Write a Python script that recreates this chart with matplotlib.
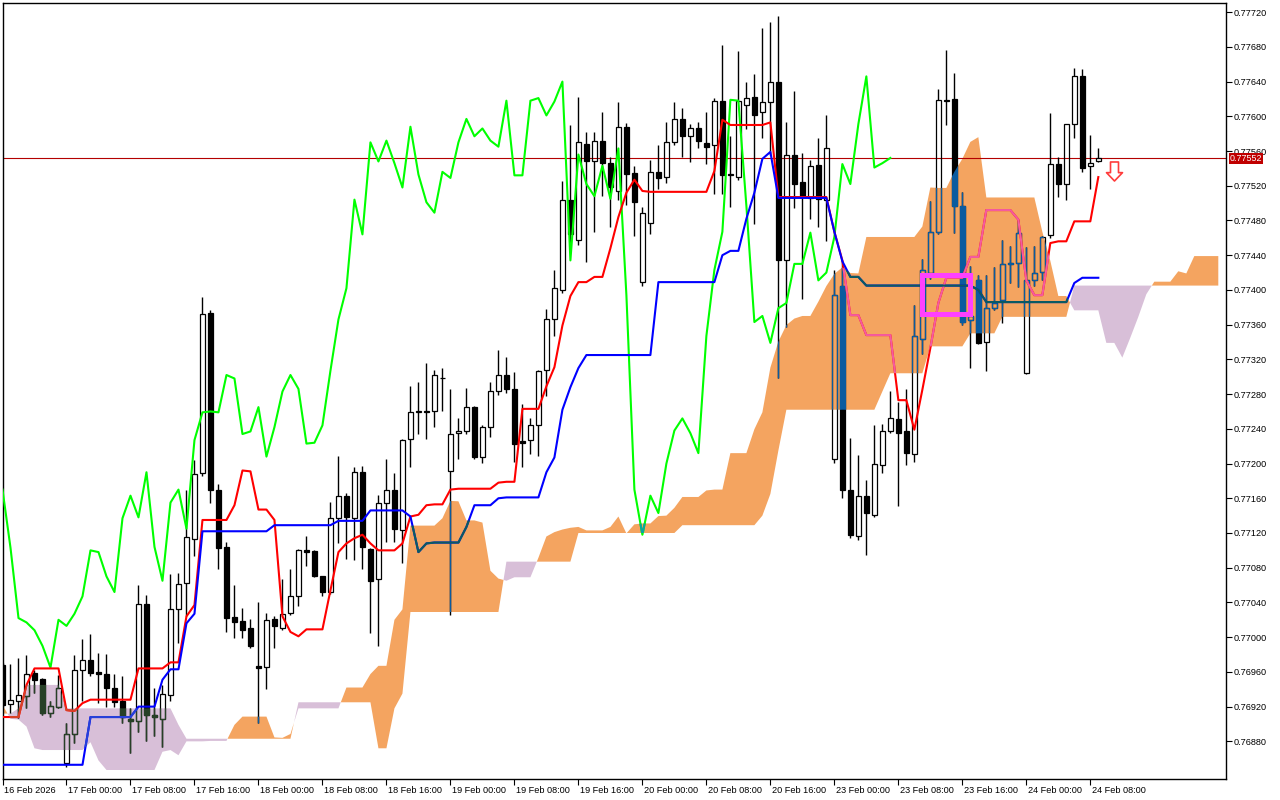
import numpy as np
import pandas as pd
import matplotlib
matplotlib.use("Agg")
import matplotlib.pyplot as plt
from matplotlib.path import Path
from matplotlib.patches import Rectangle
from matplotlib.transforms import ScaledTranslation, blended_transform_factory

plt.rcParams['font.family'] = ['Liberation Sans', 'DejaVu Sans']

PT = 1e-5  # all prices below are in points (0.00001)

# H1 bars, first bar = 16 Feb 2026 16:00
opens = [76968, 76923, 76927, 76932, 76959, 76952, 76913, 76920, 76855, 76888,
         76962, 76974, 76960, 76958, 76942, 76927, 76906, 76904, 77038, 76910,
         76906, 76933, 77033, 77062, 77113, 77189, 77374, 77170, 77104, 77023,
         77019, 77010, 76967, 76966, 77021, 77011, 77028, 77047, 77100, 77099,
         77070, 77052, 77137, 77163, 77137, 77190, 77102, 77067, 77154, 77170,
         77124, 77228, 77259, 77261, 77260, 77299, 77191, 77235, 77237, 77265,
         77207, 77242, 77283, 77302, 77286, 77226, 77227, 77244, 77308, 77367,
         77400, 77504, 77458, 77568, 77548, 77572, 77546, 77514, 77588, 77535,
         77409, 77477, 77536, 77530, 77570, 77597, 77577, 77587, 77569, 77567,
         77618, 77533, 77530, 77613, 77622, 77605, 77617, 77640, 77434, 77556,
         77524, 77506, 77544, 77504, 77205, 77404, 77170, 77116, 77163, 77141,
         77198, 77238, 77251, 77237, 77211, 77343, 77420, 77467, 77619, 77620,
         77497, 77365, 77412, 77340, 77379, 77388, 77431, 77431, 77304, 77411,
         77421, 77463, 77545, 77522, 77591, 77646, 77543, 77549]
highs = [76970, 76969, 76976, 76979, 76962, 76953, 76927, 76956, 76901, 76979,
         76998, 77004, 76982, 76981, 76958, 76955, 76918, 77060, 77049, 76941,
         76945, 77073, 77074, 77170, 77204, 77392, 77377, 77177, 77110, 77060,
         77034, 77021, 77040, 77028, 77024, 77067, 77079, 77102, 77117, 77100,
         77071, 77156, 77209, 77166, 77196, 77197, 77103, 77164, 77205, 77189,
         77228, 77289, 77294, 77316, 77308, 77310, 77286, 77252, 77287, 77266,
         77244, 77294, 77331, 77323, 77306, 77269, 77252, 77308, 77378, 77423,
         77525, 77590, 77622, 77582, 77582, 77605, 77553, 77617, 77592, 77543,
         77495, 77550, 77567, 77593, 77617, 77609, 77591, 77594, 77605, 77621,
         77682, 77577, 77675, 77640, 77649, 77702, 77709, 77715, 77593, 77629,
         77558, 77550, 77575, 77601, 77423, 77435, 77229, 77210, 77181, 77244,
         77246, 77283, 77271, 77286, 77383, 77436, 77503, 77632, 77676, 77650,
         77513, 77427, 77417, 77417, 77426, 77457, 77451, 77481, 77450, 77451,
         77462, 77604, 77553, 77591, 77656, 77655, 77578, 77564]
lows = [76920, 76913, 76907, 76918, 76936, 76910, 76908, 76918, 76850, 76878,
        76927, 76955, 76924, 76920, 76920, 76901, 76867, 76891, 76880, 76886,
        76874, 76926, 76993, 77024, 77093, 77186, 77155, 77078, 77006, 76999,
        76999, 76987, 76901, 76940, 76988, 77008, 77026, 77036, 77082, 77069,
        77047, 77050, 77108, 77090, 77089, 77078, 77005, 76990, 77110, 77110,
        77085, 77196, 77234, 77228, 77242, 77260, 77026, 77205, 77234, 77205,
        77201, 77231, 77279, 77281, 77202, 77196, 77211, 77209, 77278, 77347,
        77397, 77452, 77452, 77432, 77467, 77508, 77472, 77504, 77498, 77462,
        77404, 77464, 77516, 77523, 77567, 77553, 77547, 77563, 77545, 77510,
        77510, 77496, 77527, 77585, 77476, 77575, 77555, 77299, 77357, 77494,
        77390, 77482, 77472, 77456, 77201, 77160, 77114, 77112, 77095, 77139,
        77189, 77235, 77151, 77198, 77202, 77326, 77413, 77464, 77590, 77466,
        77360, 77310, 77338, 77307, 77377, 77362, 77408, 77403, 77303, 77404,
        77411, 77460, 77507, 77504, 77575, 77536, 77516, 77547]
closes = [76922, 76928, 76933, 76958, 76951, 76913, 76921, 76942, 76889, 76962,
          76974, 76959, 76958, 76941, 76925, 76908, 76903, 77038, 76910, 76908,
          76934, 77033, 77061, 77115, 77188, 77372, 77170, 77103, 77022, 77017,
          77008, 76990, 76965, 77020, 77013, 77027, 77047, 77100, 77098, 77070,
          77052, 77137, 77163, 77138, 77190, 77104, 77065, 77155, 77170, 77125,
          77227, 77259, 77260, 77259, 77302, 77298, 77234, 77237, 77265, 77208,
          77242, 77283, 77302, 77286, 77223, 77224, 77244, 77307, 77366, 77402,
          77504, 77464, 77570, 77548, 77572, 77546, 77518, 77588, 77533, 77501,
          77489, 77536, 77529, 77570, 77597, 77577, 77586, 77572, 77565, 77618,
          77532, 77532, 77618, 77621, 77601, 77617, 77640, 77434, 77556, 77522,
          77508, 77543, 77505, 77563, 77394, 77170, 77118, 77163, 77143, 77200,
          77238, 77252, 77235, 77212, 77347, 77423, 77467, 77619, 77618, 77497,
          77363, 77370, 77339, 77379, 77385, 77430, 77430, 77466, 77411, 77420,
          77461, 77545, 77522, 77591, 77646, 77541, 77546, 77552]

# Ichimoku lines
tenkan = [76908, 76908, 76908, 76945, 76964, 76964, 76964, 76964, 76916, 76915,
          76924, 76928, 76928, 76928, 76928, 76928, 76928, 76964, 76964, 76964,
          76964, 76971, 76971, 77024, 77037, 77135, 77135, 77135, 77135, 77152,
          77192, 77191, 77147, 77147, 77135, 77024, 77006, 77001, 77009, 77009,
          77009, 77054, 77098, 77108, 77114, 77118, 77108, 77100, 77100, 77100,
          77108, 77139, 77141, 77152, 77153, 77153, 77170, 77171, 77171, 77171,
          77171, 77171, 77178, 77179, 77179, 77263, 77263, 77263, 77289, 77311,
          77359, 77393, 77409, 77409, 77415, 77415, 77448, 77484, 77512, 77527,
          77514, 77513, 77513, 77513, 77513, 77513, 77513, 77513, 77513, 77537,
          77596, 77590, 77590, 77590, 77590, 77590, 77593, 77507, 77507, 77507,
          77507, 77507, 77507, 77507, 77467, 77434, 77371, 77371, 77348, 77348,
          77348, 77348, 77273, 77273, 77239, 77285, 77333, 77385, 77414, 77414,
          77414, 77438, 77438, 77492, 77492, 77492, 77492, 77481, 77411, 77394,
          77394, 77454, 77456, 77456, 77479, 77479, 77479, 77530]
kijun = [76853, 76853, 76853, 76853, 76853, 76853, 76853, 76853, 76853, 76853,
         76853, 76908, 76908, 76908, 76908, 76908, 76908, 76920, 76920, 76920,
         76951, 76963, 76963, 77016, 77027, 77122, 77122, 77122, 77122, 77122,
         77122, 77122, 77122, 77122, 77129, 77129, 77129, 77129, 77129, 77129,
         77129, 77129, 77134, 77134, 77134, 77134, 77146, 77146, 77146, 77146,
         77146, 77139, 77098, 77108, 77109, 77109, 77109, 77109, 77127, 77152,
         77152, 77152, 77160, 77161, 77161, 77161, 77161, 77161, 77190, 77207,
         77262, 77288, 77310, 77325, 77325, 77325, 77325, 77325, 77325, 77325,
         77325, 77325, 77409, 77409, 77409, 77409, 77409, 77409, 77409, 77409,
         77440, 77445, 77445, 77482, 77512, 77551, 77559, 77506, 77506, 77506,
         77506, 77506, 77506, 77506, 77467, 77433, 77415, 77415, 77405, 77405,
         77405, 77405, 77405, 77405, 77405, 77405, 77405, 77405, 77405, 77405,
         77405, 77405, 77400, 77386, 77386, 77386, 77386, 77386, 77386, 77386,
         77386, 77386, 77386, 77386, 77408, 77414, 77414, 77414]
# cloud edges, 26 bars further than the price
span_a = [76922, 76906, 76905, 76897, 76872, 76870, 76870, 76870, 76870, 76870,
          76870, 76879, 76858, 76847, 76847, 76847, 76847, 76847, 76847, 76847,
          76868, 76870, 76864, 76880, 76880, 76880, 76880.5, 76880.5, 76880.5, 76899,
          76908.5, 76908.5, 76908.5, 76908.5, 76884.5, 76884, 76888.5, 76918, 76918, 76918,
          76918, 76918, 76918, 76942, 76942, 76942, 76957.5, 76967, 76967, 77020,
          77032, 77128.5, 77128.5, 77128.5, 77128.5, 77137, 77157, 77156.5, 77134.5, 77134.5,
          77132, 77076.5, 77067.5, 77065, 77069, 77069, 77069, 77091.5, 77116, 77121,
          77124, 77126, 77127, 77123, 77123, 77123, 77127, 77139, 77119.5, 77130,
          77131, 77131, 77139.5, 77140, 77149, 77161.5, 77161.5, 77161.5, 77169, 77170,
          77170, 77212, 77212, 77212, 77239.5, 77259, 77310.5, 77340.5, 77359.5, 77367,
          77370, 77370, 77386.5, 77404.5, 77418.5, 77426, 77419.5, 77419, 77461, 77461,
          77461, 77461, 77461, 77461, 77461, 77473, 77518, 77517.5, 77517.5, 77536,
          77551, 77570.5, 77576, 77506.5, 77506.5, 77506.5, 77506.5, 77506.5, 77506.5, 77506.5,
          77467, 77433.5, 77393, 77393, 77376.5, 77376.5, 77376.5, 77376.5, 77339, 77339,
          77322, 77345, 77369, 77395, 77409.5, 77409.5, 77409.5, 77421.5, 77419, 77439,
          77439, 77439, 77439]
span_b = [76912, 76912, 76918, 76945, 76945, 76945, 76945, 76945, 76918, 76918,
          76918, 76918, 76918, 76918, 76918, 76918, 76918, 76918, 76918, 76918,
          76918, 76918, 76899, 76883, 76883, 76883, 76883, 76883, 76883, 76883,
          76883, 76883, 76883, 76883, 76883, 76883, 76883, 76925, 76925, 76925,
          76925, 76925, 76925, 76925, 76925, 76925, 76925, 76872, 76872, 76918,
          76935, 77029, 77029, 77029, 77029, 77029, 77029, 77029, 77029, 77029,
          77029, 77029, 77029, 77087, 77087, 77087, 77087, 77087, 77087, 77087,
          77087, 77087, 77120, 77120, 77120, 77120, 77120, 77120, 77120, 77120,
          77120, 77120, 77120, 77120, 77120, 77129, 77129, 77129, 77129, 77129,
          77129, 77129, 77129, 77129, 77129, 77140, 77165, 77215, 77262, 77262,
          77262, 77262, 77262, 77262, 77262, 77262, 77262, 77262, 77262, 77262,
          77283, 77304, 77304, 77304, 77304, 77304, 77335, 77335, 77335, 77335,
          77335, 77350, 77350, 77350, 77350, 77369, 77369, 77369, 77369, 77369,
          77369, 77369, 77369, 77369, 77405, 77405, 77405, 77405, 77405, 77405,
          77405, 77405, 77405, 77405, 77405, 77405, 77405, 77405, 77405, 77405,
          77405, 77405, 77405]

bid = 77552
# rectangle object (bar from/to, price from/to) and sell arrow object (bar, price)
rect_bars = (115, 121)
rect_prices = (77372, 77417)
arrow_bar, arrow_price = 139, 77537

o = np.array(opens) * PT
h = np.array(highs) * PT
l = np.array(lows) * PT
c = np.array(closes) * PT
tk = np.array(tenkan) * PT
kj = np.array(kijun) * PT
sa = np.array(span_a) * PT
sb = np.array(span_b) * PT
n = len(c)
x = np.arange(n)
xa = np.arange(len(sa))

# hourly time axis without weekends
times = pd.date_range('2026-02-16 16:00', periods=24 * 14, freq='h')
times = times[times.dayofweek < 5][:len(sa)]

fig = plt.figure(figsize=(12.8, 8), dpi=100)
ax = fig.add_axes([2.5 / 1280, 21.5 / 800, 1223 / 1280, 776 / 800])
ax.set_xlim(0.025, 0.025 + 1223 / 8)
ax.set_ylim(0.768372, 0.777311)

# cloud
orange = ax.fill_between(xa, sa, sb, where=sa >= sb, interpolate=True,
                         color='#F4A460', lw=0, zorder=1)
thistle = ax.fill_between(xa, sa, sb, where=sa < sb, interpolate=True,
                          color='#D8BFD8', lw=0, zorder=1)
orange_clip = Path.make_compound_path(*orange.get_paths())
thistle_clip = Path.make_compound_path(*thistle.get_paths())


def xor_col(line, fill):
    # colour seen where a line crosses the cloud
    a = [int(line[i:i + 2], 16) for i in (1, 3, 5)]
    b = [255 - int(fill[i:i + 2], 16) for i in (1, 3, 5)]
    return '#%02X%02X%02X' % tuple(p ^ q for p, q in zip(a, b))


def draw_candles(col, z, clip=None):
    up = c >= o
    top = np.maximum(o, c)
    bot = np.minimum(o, c)
    hgt = np.maximum(top - bot, 0.6 * PT)
    arts = [ax.vlines(x, top, h, color=col, lw=1, zorder=z),
            ax.vlines(x, l, bot, color=col, lw=1, zorder=z)]
    arts += list(ax.bar(x[up], hgt[up], bottom=bot[up], width=0.55,
                        facecolor='none', edgecolor=col, lw=0.9, zorder=z))
    arts += list(ax.bar(x[~up], hgt[~up], bottom=bot[~up], width=0.55,
                        facecolor=col, edgecolor=col, lw=0.9, zorder=z))
    if clip is not None:
        for a in arts:
            a.set_clip_path(clip, ax.transData)


def draw_lines(cols, z, clip=None):
    arts = []
    arts += ax.plot(x[:n - 26], c[26:], color=cols[0], lw=1.5, zorder=z)
    arts += ax.plot(x, tk, color=cols[1], lw=1.5, zorder=z + 0.01)
    arts += ax.plot(x, kj, color=cols[2], lw=1.5, zorder=z + 0.02)
    if clip is not None:
        for a in arts:
            a.set_clip_path(clip, ax.transData)


ax.axhline(bid * PT, color='#B40000', lw=0.8, zorder=1.8)

line_cols = ['#00FF00', '#FF0000', '#0000FF']
draw_candles('#000000', 2)
draw_candles(xor_col('#000000', '#F4A460'), 2.5, orange_clip)
draw_candles(xor_col('#000000', '#D8BFD8'), 2.5, thistle_clip)
draw_lines(line_cols, 3)
draw_lines([xor_col(cc, '#F4A460') for cc in line_cols], 3.5, orange_clip)
draw_lines([xor_col(cc, '#D8BFD8') for cc in line_cols], 3.5, thistle_clip)

# rectangle object
ax.add_patch(Rectangle((rect_bars[0], rect_prices[0] * PT),
                       rect_bars[1] - rect_bars[0],
                       (rect_prices[1] - rect_prices[0]) * PT,
                       fill=False, ec='#FF40FF', lw=3.6, zorder=6))

# sell arrow object
arrow = Path([(-0.21, 0.5), (0.21, 0.5), (0.21, -0.06), (0.42, -0.06), (0, -0.5),
              (-0.42, -0.06), (-0.21, -0.06), (-0.21, 0.5)], closed=True)
ax.plot([arrow_bar], [arrow_price * PT], marker=arrow, ms=13.7, mfc='white',
        mec='#FF3B3B', mew=1.2, ls='none', zorder=7)

# axes
for s in ax.spines.values():
    s.set_linewidth(1)
    s.set_color('black')

ax.yaxis.tick_right()
ax.set_yticks(np.arange(76880, 77721, 40) * PT)
ax.yaxis.set_major_formatter(matplotlib.ticker.FormatStrFormatter('%.5f'))
ax.tick_params(axis='y', length=4, width=0.8, pad=2, labelsize=6.6)

tick_pos = list(range(0, n, 8))
labels = [times[k].strftime('%d %b %H:%M') for k in tick_pos]
labels[0] = times[0].strftime('%d %b %Y')
ax.set_xticks(tick_pos, labels)
ax.tick_params(axis='x', length=4, width=0.8, pad=1.5, labelsize=6.6)
shift = ScaledTranslation(1.5 / 100, 0, fig.dpi_scale_trans)
for lb in ax.get_xticklabels():
    lb.set_ha('left')
    lb.set_transform(lb.get_transform() + shift)

# bid price label (sits over the 0.77560 tick label, as on the terminal)
trans = blended_transform_factory(ax.transAxes, ax.transData)
ax.text(1.0, bid * PT, '%.5f' % (bid * PT),
        transform=trans + ScaledTranslation(4.5 / 100, -0.5 / 100, fig.dpi_scale_trans),
        ha='left', va='center', color='white', fontsize=6.4, zorder=10, clip_on=False,
        bbox=dict(boxstyle='square,pad=0.08', fc='#C00000', ec='none'))

fig.savefig('out.png', dpi=100)
